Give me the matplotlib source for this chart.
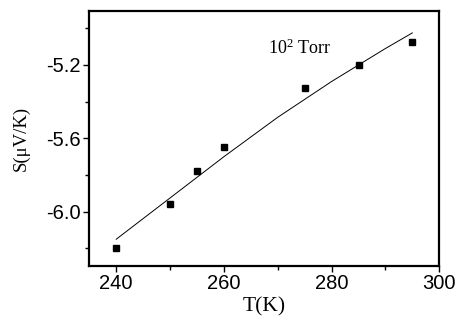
import matplotlib
matplotlib.use("Agg")
import matplotlib.pyplot as plt
from matplotlib.ticker import MultipleLocator

plt.rcParams["mathtext.fontset"] = "custom"
plt.rcParams["mathtext.rm"] = "Liberation Serif"
plt.rcParams["mathtext.it"] = "Liberation Serif:italic"

T = [240, 250, 255, 260, 275, 285, 295]
S = [-6.20, -5.958, -5.778, -5.647, -5.324, -5.20, -5.075]

T_fit = [240, 250, 260, 270, 280, 290, 295]
S_fit = [-6.15, -5.925, -5.70, -5.485, -5.29, -5.11, -5.025]

xticks = [240, 260, 280, 300]
yticks = [-6.0, -5.6, -5.2]

fig = plt.figure(figsize=(4.58, 3.2), dpi=100)
ax = fig.add_axes([89.3/458, 1 - 266/320, (439.3-89.3)/458, (266-10.7)/320])

ax.plot(T_fit, S_fit, color="black", lw=0.7)
ax.plot(T, S, linestyle="none", marker="s", color="black", markersize=3.8)

ax.set_xlim(235, 300)
ax.set_ylim(-6.296, -4.904)
ax.set_xticks(xticks)
ax.set_yticks(yticks)
ax.set_yticklabels([f"{v:.1f}" for v in yticks])
ax.xaxis.set_minor_locator(MultipleLocator(10))
ax.yaxis.set_minor_locator(MultipleLocator(0.2))

for sp in ax.spines.values():
    sp.set_linewidth(1.6)
ax.tick_params(which="both", direction="out", top=False, right=False, width=1.0)
ax.tick_params(which="major", length=4, labelsize=14.5, pad=2)
ax.tick_params(which="minor", length=3)
for lab in ax.get_xticklabels() + ax.get_yticklabels():
    lab.set_family("Liberation Sans")

ax.set_xlabel("T(K)", family="Liberation Serif", fontsize=15.5, labelpad=3)
ax.set_ylabel("S(\u03bcV/K)", family="Liberation Serif", fontsize=13.5, labelpad=12)

ax.text(268.2, -5.107, r"$\mathrm{10^2\ Torr}$", fontsize=13,
        va="center", ha="left")

fig.savefig("out.png", dpi=100)
